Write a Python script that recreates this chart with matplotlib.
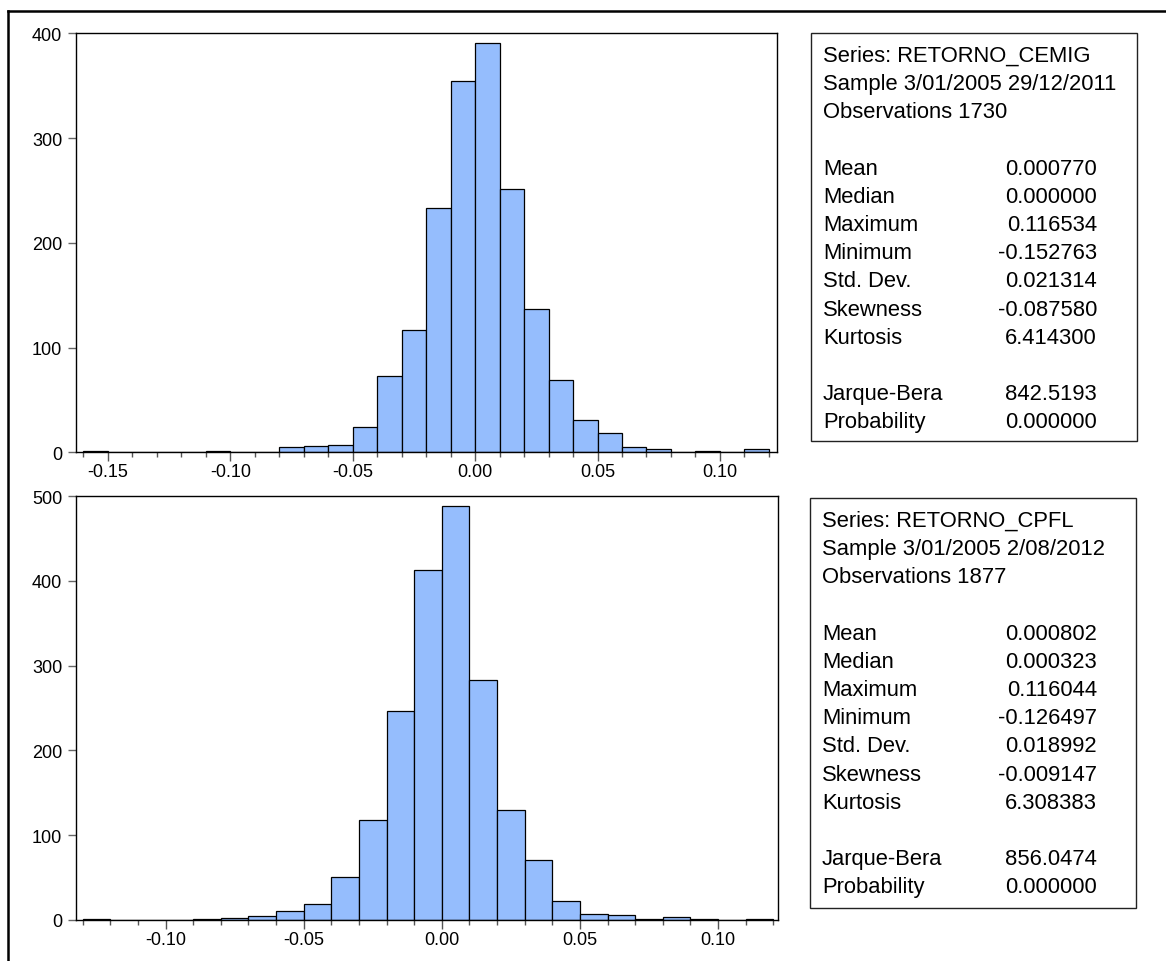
import matplotlib
matplotlib.use("Agg")
import matplotlib.pyplot as plt
from matplotlib.ticker import MultipleLocator, FormatStrFormatter
from matplotlib.patches import Rectangle
from matplotlib.lines import Line2D

plt.rcParams['font.family'] = ['Liberation Sans', 'DejaVu Sans']
plt.rcParams['axes.unicode_minus'] = False

# ---------------- data ----------------
cemig_bin_left = [-0.16, -0.15, -0.14, -0.13, -0.12, -0.11, -0.10, -0.09, -0.08, -0.07,
                  -0.06, -0.05, -0.04, -0.03, -0.02, -0.01, 0.00, 0.01, 0.02, 0.03,
                  0.04, 0.05, 0.06, 0.07, 0.08, 0.09, 0.10, 0.11]
cemig_counts = [1, 0, 0, 0, 0, 1, 0, 0, 5, 6,
                7, 24, 73, 117, 233, 354, 391, 251, 137, 69,
                31, 18, 5, 3, 0, 1, 0, 3]

cpfl_bin_left = [-0.13, -0.12, -0.11, -0.10, -0.09, -0.08, -0.07, -0.06, -0.05, -0.04,
                 -0.03, -0.02, -0.01, 0.00, 0.01, 0.02, 0.03, 0.04, 0.05, 0.06,
                 0.07, 0.08, 0.09, 0.10, 0.11]
cpfl_counts = [1, 0, 0, 0, 1, 2, 4, 10, 19, 51,
               118, 247, 413, 488, 283, 130, 70, 22, 7, 5,
               1, 3, 1, 0, 1]
bin_width = 0.01

cemig_yticks = [0, 100, 200, 300, 400]
cpfl_yticks = [0, 100, 200, 300, 400, 500]

cemig_header = ["Series: RETORNO_CEMIG", "Sample 3/01/2005 29/12/2011", "Observations 1730"]
cemig_stat_names = ["Mean", "Median", "Maximum", "Minimum", "Std. Dev.", "Skewness", "Kurtosis"]
cemig_stat_values = ["0.000770", "0.000000", "0.116534", "-0.152763", "0.021314", "-0.087580", "6.414300"]
cemig_test_names = ["Jarque-Bera", "Probability"]
cemig_test_values = ["842.5193", "0.000000"]

cpfl_header = ["Series: RETORNO_CPFL", "Sample 3/01/2005 2/08/2012", "Observations 1877"]
cpfl_stat_names = ["Mean", "Median", "Maximum", "Minimum", "Std. Dev.", "Skewness", "Kurtosis"]
cpfl_stat_values = ["0.000802", "0.000323", "0.116044", "-0.126497", "0.018992", "-0.009147", "6.308383"]
cpfl_test_names = ["Jarque-Bera", "Probability"]
cpfl_test_values = ["856.0474", "0.000000"]

# ---------------- layout ----------------
W, H = 1166, 962
fig = plt.figure(figsize=(W / 100, H / 100), dpi=100)


def fx(x):
    return x / W


def fy(y):
    return 1 - y / H


def make_axes(left, top, right, bottom):
    return fig.add_axes([fx(left), fy(bottom), fx(right) - fx(left), fy(top) - fy(bottom)])


bar_color = '#95BDFD'


def draw_hist(ax, lefts, counts, xlim, ylim, yticks):
    ax.bar(lefts, counts, width=bin_width, align='edge', color=bar_color,
           edgecolor='black', linewidth=0.9, zorder=2)
    ax.set_xlim(*xlim)
    ax.set_ylim(*ylim)
    ax.set_yticks(yticks)
    ax.xaxis.set_major_locator(MultipleLocator(0.05))
    ax.xaxis.set_minor_locator(MultipleLocator(0.01))
    ax.xaxis.set_major_formatter(FormatStrFormatter('%.2f'))
    ax.tick_params(axis='x', which='major', length=6.5, width=1.0, color='#555555',
                   labelsize=13, pad=1.5)
    ax.tick_params(axis='x', which='minor', length=3.6, width=1.0, color='#555555')
    ax.tick_params(axis='y', which='major', length=6, width=1.0, color='#666666',
                   labelsize=13, pad=4)
    for s in ax.spines.values():
        s.set_linewidth(1.0)
        s.set_color('black')


ax1 = make_axes(76, 34.3, 777, 453.3)
draw_hist(ax1, cemig_bin_left, cemig_counts, (-0.163, 0.1233), (0, 400), cemig_yticks)

ax2 = make_axes(76, 497.3, 778, 920.7)
draw_hist(ax2, cpfl_bin_left, cpfl_counts, (-0.1324, 0.1217), (0, 500), cpfl_yticks)


def stats_box(left, top, right, bottom, header, names, values, tnames, tvalues):
    fig.patches.append(Rectangle((fx(left), fy(bottom)), fx(right) - fx(left), fy(top) - fy(bottom),
                                 transform=fig.transFigure, fill=False, edgecolor='#222222',
                                 linewidth=1.0))
    text_x = left + 12
    val_x = 1097
    y0 = top + 22
    step = 28.2
    fs = 15.8
    lines = []
    for i, h in enumerate(header):
        lines.append((y0 + i * step, h, None))
    for i, (n, v) in enumerate(zip(names, values)):
        lines.append((y0 + (4 + i) * step, n, v))
    for i, (n, v) in enumerate(zip(tnames, tvalues)):
        lines.append((y0 + (12 + i) * step, n, v))
    for y, n, v in lines:
        fig.text(fx(text_x), fy(y), n, ha='left', va='center', fontsize=fs, color='black')
        if v is not None:
            fig.text(fx(val_x), fy(y), v, ha='right', va='center', fontsize=fs, color='black')


stats_box(811, 34.3, 1137, 442, cemig_header, cemig_stat_names, cemig_stat_values,
          cemig_test_names, cemig_test_values)
stats_box(810, 499.3, 1136, 909.3, cpfl_header, cpfl_stat_names, cpfl_stat_values,
          cpfl_test_names, cpfl_test_values)

# outer frame (top and left edges visible)
fig.lines.append(Line2D([fx(8.3), fx(1166)], [fy(11.7), fy(11.7)], transform=fig.transFigure,
                        color='black', linewidth=1.8))
fig.lines.append(Line2D([fx(8.3), fx(8.3)], [fy(11.7), fy(962)], transform=fig.transFigure,
                        color='black', linewidth=1.8))

fig.savefig('out.png', dpi=100)
